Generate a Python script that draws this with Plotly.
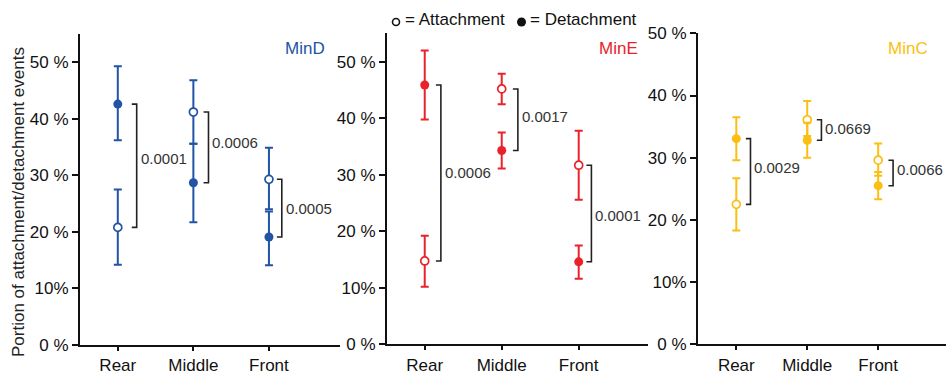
import plotly.graph_objects as go

W, H = 948, 374

categories = ["Rear", "Middle", "Front"]
proteins = ["MinD", "MinE", "MinC"]
colors = {"MinD": "#2253A5", "MinE": "#E8232B", "MinC": "#FBBE12"}

# Attachment (open) means and error limits (%)
attach_mean = {"MinD": [20.8, 41.2, 29.3], "MinE": [14.75, 45.2, 31.7], "MinC": [22.5, 36.1, 29.6]}
attach_hi = {"MinD": [27.5, 46.8, 34.9], "MinE": [19.2, 47.9, 37.8], "MinC": [26.7, 39.1, 32.3]}
attach_lo = {"MinD": [14.2, 35.6, 24.0], "MinE": [10.2, 42.5, 25.6], "MinC": [18.3, 33.5, 27.1]}
# Detachment (filled) means and error limits (%)
detach_mean = {"MinD": [42.6, 28.7, 19.1], "MinE": [45.9, 34.3, 14.6], "MinC": [33.06, 32.8, 25.5]}
detach_hi = {"MinD": [49.3, 35.6, 23.6], "MinE": [52.0, 37.5, 17.5], "MinC": [36.5, 35.6, 27.7]}
detach_lo = {"MinD": [36.2, 21.7, 14.1], "MinE": [39.8, 31.1, 11.6], "MinC": [29.6, 30.0, 23.3]}
# p-values between attachment and detachment
p_values = {"MinD": ["0.0001", "0.0006", "0.0005"],
            "MinE": ["0.0006", "0.0017", "0.0001"],
            "MinC": ["0.0029", "0.0669", "0.0066"]}

ytick_vals = [0, 10, 20, 30, 40, 50]
ytick_text = ["0 %", "10%", "20 %", "30 %", "40 %", "50 %"]

# layout helpers (pixels)
panel_x = {"MinD": (80, 340), "MinE": (387, 648), "MinC": (698, 946)}
panel_y = {"MinD": (345, 34), "MinE": (344.3, 33), "MinC": (344.3, 33.3)}
x_ranges = {"MinD": [-0.5, 2.94], "MinE": [-0.49, 2.9], "MinC": [-0.54, 2.956]}
y_ranges = {"MinD": [0, 55], "MinE": [0, 55.1], "MinC": [0, 50]}
bracket_dx = {"MinD": [0.25, 0.2, 0.17], "MinE": [0.21, 0.21, 0.165], "MinC": [0.2, 0.2, 0.21]}
label_nudge = {"MinD": [1.3, 0.9, 0.0], "MinE": [0, 0.5, -0.4], "MinC": [0.7, 0.2, 0.5]}
title_pos = {"MinD": 327, "MinE": 640, "MinC": 930}

FONT = "Liberation Sans, Arial, Helvetica, sans-serif"

fig = go.Figure()
shapes = []
annotations = []
layout_axes = {}

for i, p in enumerate(proteins):
    n = "" if i == 0 else str(i + 1)
    xa, ya = "x" + n, "y" + n
    c = colors[p]
    xidx = list(range(len(categories)))
    # attachment
    fig.add_trace(go.Scatter(
        x=categories, y=attach_mean[p], xaxis=xa, yaxis=ya, mode="markers",
        marker=dict(symbol="circle", size=8, color="white", line=dict(color=c, width=1.7)),
        error_y=dict(type="data", symmetric=False,
                     array=[h - m for h, m in zip(attach_hi[p], attach_mean[p])],
                     arrayminus=[m - l for m, l in zip(attach_mean[p], attach_lo[p])],
                     color=c, thickness=2, width=4),
        showlegend=False, cliponaxis=False))
    # detachment
    fig.add_trace(go.Scatter(
        x=categories, y=detach_mean[p], xaxis=xa, yaxis=ya, mode="markers",
        marker=dict(symbol="circle", size=9, color=c, line=dict(width=0)),
        error_y=dict(type="data", symmetric=False,
                     array=[h - m for h, m in zip(detach_hi[p], detach_mean[p])],
                     arrayminus=[m - l for m, l in zip(detach_mean[p], detach_lo[p])],
                     color=c, thickness=2, width=4),
        showlegend=False, cliponaxis=False))
    # brackets + p-values
    for k in xidx:
        bx = k + bracket_dx[p][k]
        y1, y2 = attach_mean[p][k], detach_mean[p][k]
        tick = 0.065
        shapes.append(dict(type="path", xref=xa, yref=ya,
                           path=f"M {bx - tick} {y1} L {bx} {y1} L {bx} {y2} L {bx - tick} {y2}",
                           line=dict(color="#222222", width=1.6)))
        annotations.append(dict(x=bx, y=(y1 + y2) / 2 + label_nudge[p][k], xref=xa, yref=ya,
                                text=p_values[p][k], showarrow=False, xanchor="left",
                                xshift=3, borderpad=0,
                                font=dict(family=FONT, size=15, color="#333333")))
    # panel title
    annotations.append(dict(x=title_pos[p] / W, y=1 - 49 / H, xref="paper", yref="paper",
                            text=p, showarrow=False, xanchor="right", yanchor="middle",
                            font=dict(family=FONT, size=17, color=c)))
    x0, x1 = panel_x[p]
    yb, yt = panel_y[p]
    axis_common = dict(showline=True, linecolor="#111111", linewidth=2, ticks="outside",
                       tickwidth=2, tickcolor="#111111", showgrid=False,
                       zeroline=False, automargin=False,
                       tickfont=dict(family=FONT, size=17, color="#111111"))
    layout_axes["xaxis" + n] = dict(domain=[x0 / W, x1 / W], range=x_ranges[p], anchor=ya,
                                   type="category", categoryorder="array", ticklen=4,
                                   categoryarray=categories, **axis_common)
    layout_axes["yaxis" + n] = dict(domain=[(H - yb) / H, (H - yt) / H], range=y_ranges[p],
                                   anchor=xa, tickvals=ytick_vals, ticktext=ytick_text,
                                   ticklen=6, **axis_common)

# y-axis title
annotations.append(dict(x=18 / W, y=1 - 202 / H, xref="paper", yref="paper",
                        text="Portion of attachment/detachment events", textangle=-90,
                        showarrow=False, xanchor="center", yanchor="middle",
                        font=dict(family=FONT, size=17, color="#222222")))

# key at top
shapes.append(dict(type="circle", xref="paper", yref="paper", xsizemode="pixel",
                   ysizemode="pixel", xanchor=396 / W, yanchor=1 - 22 / H,
                   x0=-3.5, x1=3.5, y0=-3.5, y1=3.5,
                   line=dict(color="#111111", width=1.6), fillcolor="white"))
shapes.append(dict(type="circle", xref="paper", yref="paper", xsizemode="pixel",
                   ysizemode="pixel", xanchor=521.5 / W, yanchor=1 - 22 / H,
                   x0=-4.5, x1=4.5, y0=-4.5, y1=4.5,
                   line=dict(color="#111111", width=0), fillcolor="#111111"))
annotations.append(dict(x=404 / W, y=1 - 20 / H, xref="paper", yref="paper",
                        text="= Attachment", showarrow=False, xanchor="left", yanchor="middle",
                        borderpad=0, font=dict(family=FONT, size=17, color="#111111")))
annotations.append(dict(x=529 / W, y=1 - 20 / H, xref="paper", yref="paper",
                        text="= Detachment", showarrow=False, xanchor="left", yanchor="middle",
                        borderpad=0, font=dict(family=FONT, size=17, color="#111111")))

fig.update_layout(width=W, height=H, margin=dict(l=0, r=0, t=0, b=0),
                  paper_bgcolor="white", plot_bgcolor="white",
                  font=dict(family=FONT, size=17, color="#111111"),
                  shapes=shapes, annotations=annotations, **layout_axes)

fig.write_html("out.html")
